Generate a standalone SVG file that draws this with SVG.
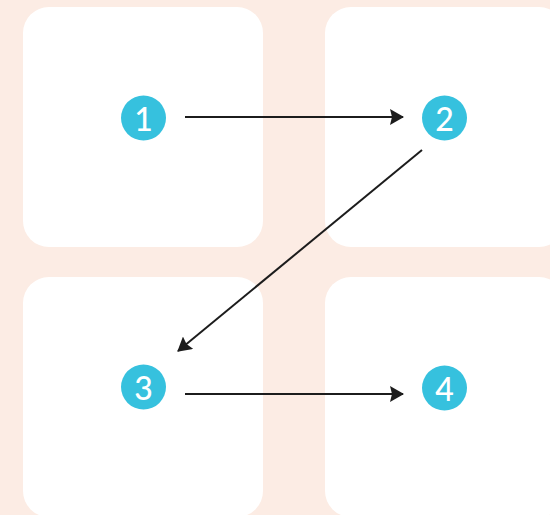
<svg xmlns="http://www.w3.org/2000/svg" width="550" height="515" viewBox="0 0 550 515">
<defs>
<style>
.tile{fill:#ffffff}
.badge{fill:#36c1de}
.num{fill:#ffffff;font-family:"Lato","Open Sans",sans-serif;font-size:32px;font-weight:500;text-anchor:middle;dominant-baseline:central}
.edge{stroke:#1c1c1c;stroke-width:2;fill:none;marker-end:url(#ah)}
</style>
<marker id="ah" markerWidth="7" markerHeight="8" refX="6.5" refY="4" orient="auto" markerUnits="strokeWidth">
<path d="M0,0 L7,4 L0,8 L1,4 Z" fill="#1c1c1c"/>
</marker>
</defs>
<rect width="550" height="515" fill="#fcece4"/>
<g id="tiles">
<rect class="tile" x="23" y="7" width="240" height="240" rx="26"/>
<rect class="tile" x="325" y="7" width="240" height="240" rx="26"/>
<rect class="tile" x="23" y="277" width="240" height="240" rx="26"/>
<rect class="tile" x="325" y="277" width="240" height="240" rx="26"/>
</g>
<g id="connectors">
<line class="edge" x1="185" y1="117" x2="403" y2="117"/>
<line class="edge" x1="422" y1="150" x2="178" y2="351"/>
<line class="edge" x1="185" y1="394" x2="403" y2="394"/>
</g>
<g id="node1"><circle class="badge" cx="143.5" cy="118" r="22.5"/><text class="num" x="143.5" y="118">1</text></g>
<g id="node2"><circle class="badge" cx="444.5" cy="118" r="22.5"/><text class="num" x="444.5" y="118">2</text></g>
<g id="node3"><circle class="badge" cx="143.5" cy="387" r="22.5"/><text class="num" x="143.5" y="387">3</text></g>
<g id="node4"><circle class="badge" cx="444.5" cy="388" r="22.5"/><text class="num" x="444.5" y="388">4</text></g>
</svg>
